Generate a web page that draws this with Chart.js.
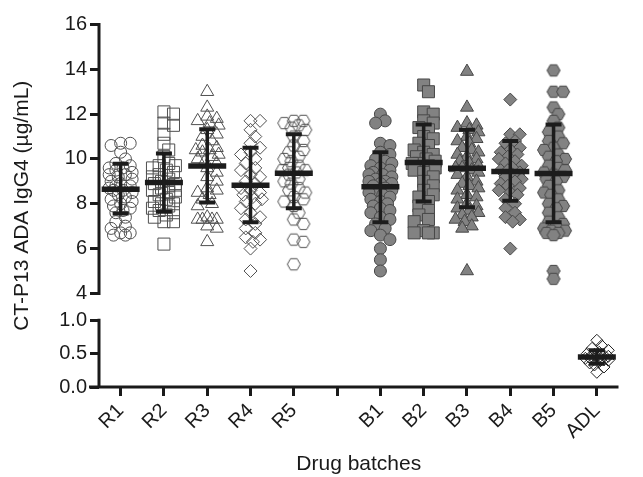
<!DOCTYPE html>
<html>
<head>
<meta charset="utf-8">
<script src="https://cdn.jsdelivr.net/npm/chart.js@4"></script>
<style>
  html, body { margin: 0; padding: 0; background: #fff; }
  #wrap { width: 643px; height: 477px; }
</style>
</head>
<body>
<div id="wrap"><canvas id="ada-chart" width="643" height="477"></canvas></div>
<script>
// categories on the x axis (empty slot = gap between R and B batches)
const xLabels = ["R1", "R2", "R3", "R4", "R5", "", "B1", "B2", "B3", "B4", "B5", "ADL"];
const groupSlot = [0, 1, 2, 3, 4, 6, 7, 8, 9, 10, 11];

// y tick labels (broken axis: 0-1 below, 4-16 above)
const yTickValues = [0, 0.5, 1, 4, 6, 8, 10, 12, 14, 16];
const yTickLabels = ["0.0", "0.5", "1.0", "4", "6", "8", "10", "12", "14", "16"];

// individual measurements (µg/mL)
const r1 = [10.7, 10.7, 10.6, 10.3, 10.0, 9.8, 9.7, 9.6, 9.6, 9.5, 9.4, 9.3, 9.3, 9.2, 9.1, 9.0, 8.9, 8.8, 8.8, 8.7, 8.6, 8.6, 8.5, 8.4, 8.3, 8.2, 8.1, 8.0, 7.9, 7.8, 7.7, 7.6, 7.4, 7.2, 7.0, 6.9, 6.7, 6.7, 6.6, 6.6];
const r2 = [12.1, 12.0, 11.6, 11.5, 11.1, 10.7, 10.4, 10.1, 9.8, 9.7, 9.7, 9.6, 9.5, 9.4, 9.3, 9.2, 9.1, 9.0, 8.9, 8.9, 8.8, 8.7, 8.6, 8.6, 8.5, 8.4, 8.3, 8.2, 8.1, 8.0, 8.0, 7.9, 7.8, 7.7, 7.6, 7.5, 7.4, 7.2, 7.2, 6.2];
const r3 = [13.0, 12.3, 11.9, 11.8, 11.7, 11.6, 11.5, 11.3, 11.1, 11.0, 10.8, 10.6, 10.5, 10.4, 10.4, 10.3, 10.2, 10.1, 10.0, 9.9, 9.8, 9.6, 9.4, 9.2, 9.0, 8.7, 8.6, 8.5, 8.4, 8.2, 8.0, 7.9, 7.4, 7.3, 7.3, 7.3, 7.3, 7.0, 6.9, 6.3];
const r4 = [11.7, 11.7, 11.3, 11.0, 10.7, 10.5, 10.3, 10.2, 10.0, 9.8, 9.6, 9.5, 9.3, 9.2, 9.0, 8.9, 8.7, 8.6, 8.5, 8.4, 8.3, 8.2, 8.1, 8.0, 7.8, 7.6, 7.4, 7.3, 7.1, 6.9, 6.7, 6.5, 6.4, 6.3, 6.0, 5.0];
const r5 = [11.7, 11.7, 11.6, 11.5, 11.4, 11.3, 11.0, 10.8, 10.6, 10.4, 10.3, 10.1, 10.0, 9.9, 9.7, 9.6, 9.5, 9.5, 9.4, 9.3, 9.1, 9.0, 8.9, 8.7, 8.6, 8.5, 8.3, 8.2, 8.1, 7.9, 7.6, 7.3, 7.1, 6.4, 6.3, 5.3];
const b1 = [12.0, 11.7, 11.6, 10.7, 10.6, 10.3, 10.2, 10.0, 9.9, 9.8, 9.7, 9.6, 9.5, 9.4, 9.3, 9.3, 9.2, 9.1, 9.0, 9.0, 8.9, 8.9, 8.8, 8.7, 8.6, 8.5, 8.5, 8.4, 8.3, 8.2, 8.1, 8.0, 7.9, 7.8, 7.7, 7.6, 7.4, 7.3, 7.1, 6.9, 6.8, 6.6, 6.4, 6.0, 5.5, 5.0];
const b2 = [13.3, 13.0, 12.1, 12.0, 11.7, 11.6, 11.4, 11.3, 11.0, 10.9, 10.7, 10.6, 10.4, 10.3, 10.2, 10.1, 10.0, 9.9, 9.8, 9.8, 9.7, 9.6, 9.5, 9.4, 9.2, 9.0, 8.8, 8.6, 8.4, 8.3, 8.1, 7.9, 7.7, 7.5, 7.3, 7.2, 6.8, 6.7, 6.7, 6.7];
const b3 = [13.9, 12.3, 11.6, 11.5, 11.4, 11.3, 11.2, 11.0, 10.9, 10.8, 10.7, 10.5, 10.4, 10.3, 10.2, 10.1, 10.0, 9.9, 9.8, 9.7, 9.6, 9.6, 9.5, 9.4, 9.3, 9.2, 9.0, 8.9, 8.8, 8.7, 8.6, 8.4, 8.3, 8.2, 8.0, 7.9, 7.8, 7.7, 7.6, 7.5, 7.4, 7.3, 7.2, 7.0, 6.9, 5.0];
const b4 = [12.65, 11.1, 11.1, 10.8, 10.7, 10.5, 10.4, 10.3, 10.2, 10.1, 10.0, 9.9, 9.8, 9.7, 9.6, 9.5, 9.5, 9.4, 9.3, 9.2, 9.1, 9.0, 8.9, 8.8, 8.7, 8.6, 8.5, 8.4, 8.2, 8.0, 7.8, 7.6, 7.4, 7.3, 7.2, 6.0];
const b5 = [13.95, 13.0, 13.0, 12.3, 12.0, 11.7, 11.4, 11.2, 11.0, 10.8, 10.7, 10.5, 10.4, 10.2, 10.1, 10.0, 9.9, 9.7, 9.6, 9.5, 9.4, 9.3, 9.2, 9.1, 9.0, 8.8, 8.6, 8.5, 8.4, 8.2, 8.0, 7.9, 7.8, 7.6, 7.4, 7.2, 7.1, 7.0, 6.9, 6.8, 6.8, 6.7, 6.7, 6.6, 5.0, 4.65];
const adl = [0.70, 0.62, 0.58, 0.55, 0.52, 0.50, 0.49, 0.47, 0.46, 0.45, 0.44, 0.43, 0.42, 0.41, 0.40, 0.38, 0.36, 0.33, 0.30, 0.22];

// mean and SD per group
const means = [8.65, 8.95, 9.69, 8.83, 9.36, 8.76, 9.84, 9.59, 9.44, 9.35, 0.45];
const sdUpper = [9.79, 10.24, 11.32, 10.5, 11.1, 10.3, 11.54, 11.3, 10.8, 11.54, 0.55];
const sdLower = [7.57, 7.64, 8.06, 7.17, 7.8, 7.17, 8.1, 7.84, 8.13, 7.17, 0.35];

const groups = [r1, r2, r3, r4, r5, b1, b2, b3, b4, b5, adl];

// broken axis: map a real value onto one continuous scale
function toAxis(v) {
  return v <= 2 ? v * 67 : 94 + (v - 4) * 22.5;
}

function hexagon(fill, stroke) {
  const c = document.createElement("canvas");
  c.width = 16;
  c.height = 16;
  const g = c.getContext("2d");
  g.beginPath();
  for (let k = 0; k < 6; k++) {
    const t = (Math.PI / 3) * k;
    const px = 8 + 6.5 * Math.cos(t);
    const py = 8 + 6.5 * Math.sin(t);
    if (k === 0) g.moveTo(px, py); else g.lineTo(px, py);
  }
  g.closePath();
  g.fillStyle = fill;
  g.fill();
  g.lineWidth = 1;
  g.strokeStyle = stroke;
  g.stroke();
  return c;
}

const openStroke = "#505050";
const solidFill = "#828282";
const solidStroke = "#474747";

const markers = [
  { style: "circle", r: 6, open: true },
  { style: "rect", r: 8.5, open: true },
  { style: "triangle", r: 7.5, open: true },
  { style: "rectRot", r: 6.5, open: true },
  { style: hexagon("rgba(0,0,0,0)", openStroke), r: 6, open: true },
  { style: "circle", r: 6, open: false },
  { style: "rect", r: 8.5, open: false },
  { style: "triangle", r: 7.5, open: false },
  { style: "rectRot", r: 6.5, open: false },
  { style: hexagon(solidFill, solidStroke), r: 6, open: false },
  { style: "rectRot", r: 6, open: true, dark: true }
];

// simple beeswarm so points spread sideways instead of piling up
function swarm(values, slot) {
  const placed = [];
  const offsets = [0, 5, -5, 10, -10, 2.5, -2.5, 7.5, -7.5, 12, -12];
  return values.map((v) => {
    const py = toAxis(v);
    let best = 0;
    let bestD = -1;
    for (const dx of offsets) {
      let dmin = Infinity;
      for (const p of placed) {
        const d = Math.hypot(p.dx - dx, p.py - py);
        if (d < dmin) dmin = d;
      }
      if (dmin >= 7) { best = dx; break; }
      if (dmin > bestD) { bestD = dmin; best = dx; }
    }
    placed.push({ dx: best, py });
    return { x: slot + best / 45.33, y: py };
  });
}

const datasets = [];

// mean / SD bars drawn on top (lower order = drawn last)
const whisker = [];
const caps = [];
const meanPts = [];
groups.forEach((g, i) => {
  const s = groupSlot[i];
  whisker.push({ x: s, y: toAxis(sdLower[i]) }, { x: s, y: toAxis(sdUpper[i]) }, { x: s, y: null });
  caps.push({ x: s, y: toAxis(sdLower[i]) }, { x: s, y: toAxis(sdUpper[i]) });
  meanPts.push({ x: s, y: toAxis(means[i]) });
});

datasets.push({
  type: "line",
  data: whisker,
  borderColor: "#1c1c1c",
  borderWidth: 3.5,
  pointRadius: 0,
  spanGaps: false,
  order: 0
});
datasets.push({
  type: "scatter",
  data: caps,
  pointStyle: "line",
  pointRadius: 8,
  borderColor: "#1c1c1c",
  borderWidth: 4,
  order: 0
});
datasets.push({
  type: "scatter",
  data: meanPts,
  pointStyle: "line",
  pointRadius: 19,
  borderColor: "#1c1c1c",
  borderWidth: 5.5,
  order: 0
});

groups.forEach((g, i) => {
  const m = markers[i];
  datasets.push({
    type: "scatter",
    data: swarm(g, groupSlot[i]),
    pointStyle: m.style,
    pointRadius: m.r,
    backgroundColor: m.open ? "rgba(255,255,255,0)" : solidFill,
    borderColor: m.dark ? "#222222" : (m.open ? openStroke : solidStroke),
    borderWidth: 1,
    order: 1
  });
});

const axisLines = {
  id: "axisLines",
  afterDraw(chart) {
    const { ctx, chartArea } = chart;
    const y = chart.scales.y;
    ctx.save();
    ctx.strokeStyle = "#1a1a1a";
    ctx.lineWidth = 3;
    ctx.beginPath();
    ctx.moveTo(chartArea.left, y.getPixelForValue(toAxis(16)) - 1.5);
    ctx.lineTo(chartArea.left, y.getPixelForValue(toAxis(4)) + 1.5);
    ctx.moveTo(chartArea.left, y.getPixelForValue(toAxis(1)) - 1.5);
    ctx.lineTo(chartArea.left, chartArea.bottom);
    ctx.moveTo(chartArea.left - 10, chartArea.bottom);
    ctx.lineTo(chartArea.right, chartArea.bottom);
    ctx.stroke();
    ctx.restore();
  }
};

const tickFont = { family: "'Liberation Sans', Arial, sans-serif", size: 20 };
const titleFont = { family: "'Liberation Sans', Arial, sans-serif", size: 21 };

new Chart(document.getElementById("ada-chart"), {
  type: "scatter",
  data: { datasets },
  options: {
    responsive: false,
    animation: false,
    layout: { padding: { top: 23, right: 0, left: 0, bottom: 0 } },
    plugins: {
      legend: { display: false },
      tooltip: { enabled: false }
    },
    scales: {
      x: {
        type: "linear",
        min: -0.5,
        max: 11.5,
        afterBuildTicks: (scale) => {
          scale.ticks = xLabels.map((l, i) => ({ value: i }));
        },
        afterFit: (scale) => { scale.height = 90; },
        border: { display: false },
        grid: { drawOnChartArea: false, tickLength: 9, lineWidth: 3, color: "#1a1a1a" },
        ticks: {
          autoSkip: false,
          minRotation: 45,
          maxRotation: 45,
          padding: 3,
          color: "#1a1a1a",
          font: tickFont,
          callback: (v) => xLabels[v]
        },
        title: { display: true, text: "Drug batches", color: "#1a1a1a", font: titleFont, padding: { top: 0, bottom: 0 } }
      },
      y: {
        type: "linear",
        min: 0,
        max: 364,
        afterBuildTicks: (scale) => {
          scale.ticks = yTickValues.map((v) => ({ value: toAxis(v) }));
        },
        afterFit: (scale) => { scale.width = 99; },
        border: { display: false },
        grid: { drawOnChartArea: false, tickLength: 9, lineWidth: 3, color: "#1a1a1a" },
        ticks: {
          padding: 3,
          color: "#1a1a1a",
          font: tickFont,
          callback: (v, i) => yTickLabels[i]
        },
        title: { display: true, text: "CT-P13 ADA IgG4 (µg/mL)", color: "#1a1a1a", font: titleFont, padding: { top: 10, bottom: 0 } }
      }
    }
  },
  plugins: [axisLines]
});
</script>
</body>
</html>
